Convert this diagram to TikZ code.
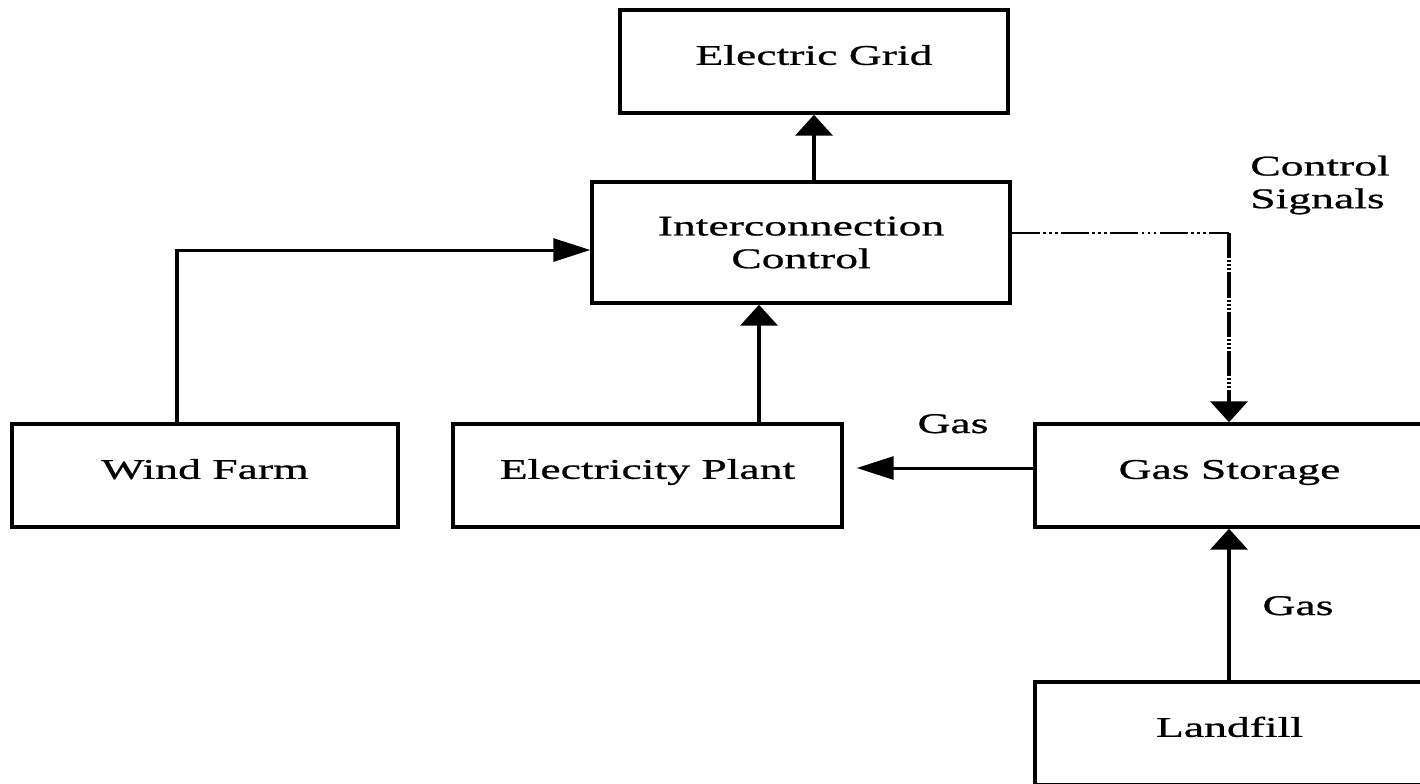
\documentclass[tikz,border=0pt]{standalone}
\usepackage{fontspec}
\setmainfont[FakeStretch=1.6,FakeBold=0.8]{Liberation Serif}
\usetikzlibrary{arrows.meta}
\begin{document}
\begin{tikzpicture}[x=0.75pt,y=-0.75pt,
  lbl/.style={font=\fontsize{21.4}{24.5}\selectfont, inner sep=0pt},
  box/.style={draw, line width=2.6pt, inner sep=0pt, text height=12pt, text depth=7pt,
    font=\fontsize{21.4}{24.5}\selectfont},
  vline/.style={line width=3.4pt},
  hline/.style={line width=2.25pt},
  vtip/.style={-{Triangle[length=15.75pt, width=27.75pt]}},
  htip/.style={-{Triangle[length=27.75pt, width=17.25pt]}},
  hdd/.style={line width=1.7pt, dash pattern=on 21pt off 2.5pt on 2pt off 2.5pt on 2pt off 2.5pt on 2pt off 2.5pt},
  vdd/.style={line width=3pt, dash pattern=on 19pt off 1.5pt on 1.5pt off 1.5pt on 1.5pt off 1.5pt on 1.5pt off 1.5pt}
]
\useasboundingbox (0,0) rectangle (1420,783);
\fill[white] (0,0) rectangle (1420,783);
\clip (0,0) rectangle (1420,783);

\node[box, minimum width=388*0.75pt, minimum height=103*0.75pt] (EG) at (814,61.5) {Electric Grid};
\node[box, minimum width=418*0.75pt, minimum height=121*0.75pt, align=center, text height=, text depth=] (IC) at (801,242.5) {Interconnection\\Control};
\node[box, minimum width=386*0.75pt, minimum height=103*0.75pt] (WF) at (205,475.5) {Wind Farm};
\node[box, minimum width=389*0.75pt, minimum height=103*0.75pt] (EP) at (647.5,475.5) {Electricity Plant};
\node[box, minimum width=389*0.75pt, minimum height=103*0.75pt] (GS) at (1229.5,475.5) {Gas Storage};
\node[box, minimum width=389*0.75pt, minimum height=103*0.75pt] (LF) at (1229.5,733.5) {Landfill};

\coordinate (wx) at (177,250);
\coordinate (ex) at (759,0);
\coordinate (cs) at (1229,233);
\coordinate (gy) at (0,468);

% Interconnection -> Grid
\draw[vline, vtip] (IC.north -| EG.south) -- (EG.south);
% Wind farm -> Interconnection
\draw[vline] (WF.north -| wx) -- ([yshift=-0.85pt]wx);
\draw[hline, htip] ([xshift=-1.7pt]wx) -- (IC.west |- wx);
% Plant -> Interconnection
\draw[vline, vtip] (EP.north -| ex) -- (IC.south -| ex);
% Gas storage -> Plant
\draw[hline, htip, shorten >=9.75pt] (GS.west |- gy) -- (EP.east |- gy);
% Landfill -> Gas storage
\draw[vline, vtip] (LF.north -| cs) -- (GS.south -| cs);
% Control signals
\draw[hdd] (IC.east |- cs) -- (cs);
\draw[vdd, vtip] (cs) -- (GS.north -| cs);

\node[lbl, anchor=base] (g1) at (953,433) {Gas};
\node[lbl, anchor=base] (g2) at (1298,615) {Gas};
\node[lbl, anchor=west, align=left] (csl) at (1250,185) {Control\\Signals};
\end{tikzpicture}
\end{document}
